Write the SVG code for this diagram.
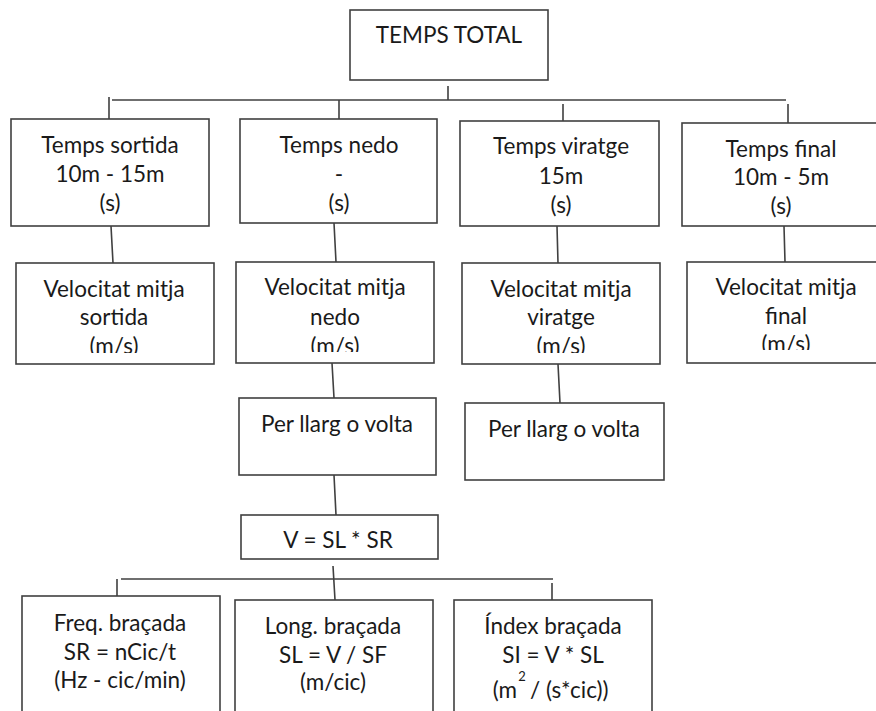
<svg xmlns="http://www.w3.org/2000/svg" width="876" height="711" viewBox="0 0 876 711">
<style>
.box{fill:#fff;stroke:#404040;stroke-width:1.6}
.ln{fill:none;stroke:#404040;stroke-width:1.6}
text{font-family:Lato,"Open Sans","Liberation Sans",sans-serif;font-size:22.5px;fill:#1a1a1a;text-anchor:middle}
.sup{font-size:13px}
</style>
<defs>
<clipPath id="c1"><rect x="16" y="263" width="198" height="90"/></clipPath>
<clipPath id="c2"><rect x="236" y="262" width="198" height="90"/></clipPath>
<clipPath id="c3"><rect x="462" y="263" width="198" height="90"/></clipPath>
<clipPath id="c4"><rect x="687" y="262" width="189" height="88"/></clipPath>
</defs>
<rect width="876" height="711" fill="#fff"/>
<g id="connectors">
<path class="ln" d="M448 86V100M112 100H786M109 97V119M339 100V119M563 104V121M788 104V123"/>
<path class="ln" d="M111 226L113 263M334 223L336 262M557 226L558 263M784 226L785 262"/>
<path class="ln" d="M332 363L334 398M558 364L560 403M334 475L336 515"/>
<path class="ln" d="M333 566L335 600M121 579H553M117 579V596M552 583V600"/>
</g>
<g id="temps-total"><rect class="box" x="350" y="10" width="198" height="70"/><text x="449" y="43">TEMPS TOTAL</text></g>
<g id="temps-sortida"><rect class="box" x="11" y="119" width="198" height="107"/><text x="110" y="153">Temps sortida</text><text x="110" y="182">10m - 15m</text><text x="110" y="211">(s)</text></g>
<g id="temps-nedo"><rect class="box" x="240" y="119" width="197" height="104"/><text x="339" y="153">Temps nedo</text><text x="339" y="182">-</text><text x="339" y="211">(s)</text></g>
<g id="temps-viratge"><rect class="box" x="460" y="121" width="199" height="105"/><text x="561" y="154">Temps viratge</text><text x="561" y="184">15m</text><text x="561" y="213">(s)</text></g>
<g id="temps-final"><rect class="box" x="682" y="123" width="200" height="103"/><text x="781" y="157">Temps final</text><text x="781" y="185">10m - 5m</text><text x="781" y="214">(s)</text></g>
<g id="vm-sortida"><rect class="box" x="16" y="263" width="198" height="101"/><g clip-path="url(#c1)"><text x="114" y="297">Velocitat mitja</text><text x="114" y="325">sortida</text><text x="114" y="354">(m/s)</text></g></g>
<g id="vm-nedo"><rect class="box" x="236" y="262" width="198" height="101"/><g clip-path="url(#c2)"><text x="335" y="295">Velocitat mitja</text><text x="335" y="325">nedo</text><text x="335" y="354">(m/s)</text></g></g>
<g id="vm-viratge"><rect class="box" x="462" y="263" width="198" height="101"/><g clip-path="url(#c3)"><text x="561" y="297">Velocitat mitja</text><text x="561" y="325">viratge</text><text x="561" y="354">(m/s)</text></g></g>
<g id="vm-final"><rect class="box" x="687" y="262" width="200" height="101"/><g clip-path="url(#c4)"><text x="786" y="295">Velocitat mitja</text><text x="786" y="324">final</text><text x="786" y="352">(m/s)</text></g></g>
<g id="per-llarg-1"><rect class="box" x="239" y="398" width="197" height="77"/><text x="337" y="432">Per llarg o volta</text></g>
<g id="per-llarg-2"><rect class="box" x="465" y="403" width="199" height="77"/><text x="564" y="437">Per llarg o volta</text></g>
<g id="v-formula"><rect class="box" x="241" y="515" width="197" height="44"/><text x="338" y="548">V = SL * SR</text></g>
<g id="freq"><rect class="box" x="22" y="596" width="198" height="130"/><text x="120" y="631">Freq. braçada</text><text x="120" y="660">SR = nCic/t</text><text x="120" y="688">(Hz - cic/min)</text></g>
<g id="long"><rect class="box" x="235" y="600" width="198" height="130"/><text x="333" y="634">Long. braçada</text><text x="333" y="663">SL = V / SF</text><text x="333" y="690">(m/cic)</text></g>
<g id="index"><rect class="box" x="454" y="600" width="198" height="130"/><text x="553" y="634">Índex braçada</text><text x="553" y="663">SI = V * SL</text><text x="522" y="681" class="sup">2</text><text x="517" y="698" style="text-anchor:end">(m</text><text x="530" y="698" style="text-anchor:start">/ (s*cic))</text></g>
</svg>
